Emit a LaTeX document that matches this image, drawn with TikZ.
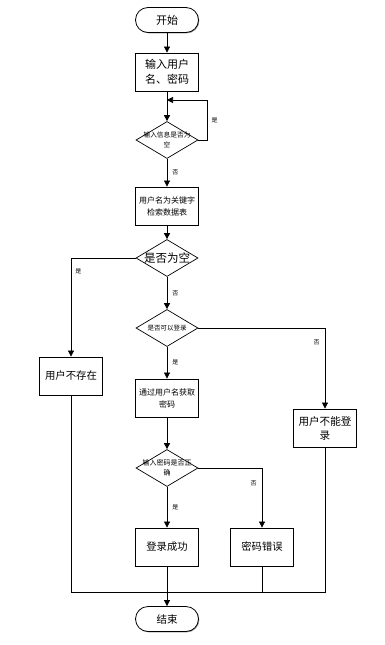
\documentclass[tikz,border=0pt]{standalone}
\usepackage{fontspec}
\setmainfont{Noto Sans CJK SC}
\usetikzlibrary{arrows.meta,shapes.geometric,shadows}

\newcommand{\fs}[2]{\fontsize{#1}{#2}\selectfont}

\tikzset{
  flowbox/.style={draw, line width=0.8pt, fill=white, align=center, inner sep=1pt,
    minimum width=63pt, minimum height=38pt,
    drop shadow={shadow xshift=0.8pt, shadow yshift=-0.8pt, fill=black!45, opacity=1}},
  term/.style={flowbox, rounded corners=12.5pt, minimum height=25pt},
  decide/.style={diamond, draw, line width=0.7pt, fill=white, inner sep=0pt,
    minimum width=62pt, minimum height=37pt},
  yn/.style={font=\fs{6}{7}, inner sep=2pt},
  flow/.style={line width=0.7pt}
}

\begin{document}
\begin{tikzpicture}[x=1pt, y=-1pt, >={Triangle[width=6pt,length=6pt]}]
\useasboundingbox (0,0) rectangle (384,645);

% main column
\node[term, font=\fs{11}{14}] (start) at (167,20) {开始};
\node[flowbox, font=\fs{11}{15}] (input) at (167,72) {输入用户\\名、密码};
\node[decide, label={[font=\fs{6.7}{10}, align=center]center:输入信息是否为\\空}] (chkin) at (167,140) {};
\node[flowbox, font=\fs{8}{12}] (search) at (167,206) {用户名为关键字\\检索数据表};
\node[decide, label={[font=\fs{11.5}{14}]center:是否为空}] (chkempty) at (167,258) {};
\node[decide, label={[font=\fs{6.5}{8}]center:是否可以登录}] (chklogin) at (167,328) {};
\node[flowbox, font=\fs{8}{12}] (getpw) at (167,398) {通过用户名获取\\密码};
\node[decide, label={[font=\fs{7}{10}, align=center]center:输入密码是否正\\确}] (chkpw) at (167,468) {};
\node[flowbox, font=\fs{10.3}{13}] (ok) at (167,547) {登录成功};
\node[term, font=\fs{10.5}{13}] (stop) at (167,619) {结束};

% side boxes
\node[flowbox, font=\fs{10.4}{13}] (nouser) at (71,376) {用户不存在};
\node[flowbox, font=\fs{10.6}{14}] (nologin) at (325,428) {用户不能登\\录};
\node[flowbox, font=\fs{10.3}{13}] (pwerr) at (262,547) {密码错误};

\coordinate (back) at (167,100);
\coordinate (join) at (167,592);

% connectors
\draw[flow,->] (start) -- (input);
\draw[flow,->] (input) -- (chkin);
\draw[flow,->] (chkin.east) -- ++(9,0) |- node[yn, pos=0.25, right=2pt] {是} (back);
\draw[flow,->] (chkin) -- node[yn, right=3pt] {否} (search);
\draw[flow,->] (search) -- (chkempty);
\draw[flow,->] (chkempty.west) -| node[yn, pos=0.57, right=2pt] {是} (nouser);
\draw[flow,->] (chkempty) -- node[yn, right=3pt] {否} (chklogin);
\draw[flow,->] (chklogin.east) -| node[yn, pos=0.59, left=3pt] {否} (nologin);
\draw[flow,->] (chklogin) -- node[yn, right=3pt] {是} (getpw);
\draw[flow,->] (getpw) -- (chkpw);
\draw[flow,->] (chkpw.east) -| node[yn, pos=0.63, left=3pt] {否} (pwerr);
\draw[flow,->] (chkpw) -- node[yn, right=3pt] {是} (ok);
\draw[flow,->] (ok) -- (stop);
\draw[flow] (nouser) |- (join);
\draw[flow] (nologin) |- (join);
\draw[flow] (pwerr) |- (join);
\end{tikzpicture}
\end{document}
